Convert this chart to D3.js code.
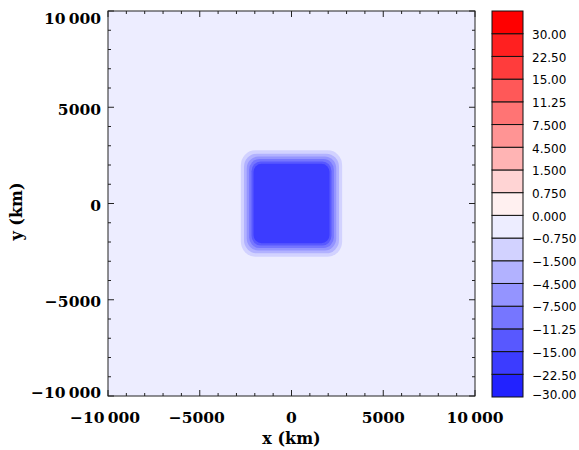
<!DOCTYPE html>
<html><head><meta charset="utf-8">
<script src="https://cdn.jsdelivr.net/npm/d3@7"></script>
<style>body{margin:0;background:#fff}svg{display:block}</style>
</head><body>
<svg id="chart" width="579" height="450"></svg>
<script>
// ---- data ----
const levels = [-30, -22.5, -15, -11.25, -7.5, -4.5, -1.5, -0.75, 0, 0.75, 1.5, 4.5, 7.5, 11.25, 15, 22.5, 30];
const levelLabels = ["\u221230.00","\u221222.50","\u221215.00","\u221211.25","\u22127.500","\u22124.500","\u22121.500","\u22120.750","0.000","0.750","1.500","4.500","7.500","11.25","15.00","22.50","30.00"];
const bandColors = ["#2222ff","#3c3cff","#5858ff","#7676ff","#9494ff","#b2b2ff","#d2d2ff","#ededff",
                    "#fff0f0","#ffd4d4","#ffb4b4","#ff9494","#ff7474","#ff5858","#ff3c3c","#ff2020","#ff0000"];
const backgroundValue = -0.3;
// closed contours of the field (nested rounded squares centred at 0,0)
const contourValues   = [-0.75, -1.5, -4.5, -7.5, -11.25, -15];
const contourHalfKm   = [2760, 2590, 2440, 2310, 2180, 2070];
const contourCornerKm = [780, 700, 630, 560, 500, 440];
const xMajor = [-10000, -5000, 0, 5000, 10000];
const yMajor = [-10000, -5000, 0, 5000, 10000];
const tickLabels = ["\u221210\u2009000", "\u22125000", "0", "5000", "10\u2009000"];

// ---- layout ----
const svg = d3.select("#chart");
const L = 108, R = 475, T = 11, B = 396;
const x = d3.scaleLinear().domain([-10000, 10000]).range([L, R]);
const y = d3.scaleLinear().domain([-10000, 10000]).range([B, T]);
const color = d3.scaleThreshold().domain(levels.slice(1)).range(bandColors);

// background field
svg.append("rect").attr("x", L).attr("y", T).attr("width", R - L).attr("height", B - T)
  .attr("fill", color(backgroundValue));

// contour fills (value just inside each contour)
const pxPerKm = (R - L) / 20000;
const g = svg.append("g");
contourValues.forEach((v, i) => {
  const h = contourHalfKm[i];
  g.append("rect")
    .attr("x", x(-h)).attr("y", y(h))
    .attr("width", x(h) - x(-h)).attr("height", y(-h) - y(h))
    .attr("rx", contourCornerKm[i] * pxPerKm).attr("ry", contourCornerKm[i] * (y(0) - y(1)))
    .attr("fill", color(v - 0.01));
});

// frame
svg.append("rect").attr("x", L).attr("y", T).attr("width", R - L).attr("height", B - T)
  .attr("fill", "none").attr("stroke", "#222").attr("stroke-width", 1);

// ticks (inward, all four sides)
const minor = d3.range(-10000, 10001, 1000);
const tk = svg.append("g").attr("stroke", "#222").attr("stroke-width", 1);
minor.forEach(v => {
  const len = (v % 5000 === 0) ? 6 : 3;
  tk.append("line").attr("x1", x(v)).attr("x2", x(v)).attr("y1", B).attr("y2", B - len);
  tk.append("line").attr("x1", x(v)).attr("x2", x(v)).attr("y1", T).attr("y2", T + len);
  tk.append("line").attr("y1", y(v)).attr("y2", y(v)).attr("x1", L).attr("x2", L + len);
  tk.append("line").attr("y1", y(v)).attr("y2", y(v)).attr("x1", R).attr("x2", R - len);
});

const tickFont = "'DejaVu Serif', serif";
xMajor.forEach((v, i) => {
  svg.append("text").attr("x", x(v) - (v < 0 ? 3 : 0)).attr("y", 423)
    .attr("text-anchor", "middle").attr("font-family", tickFont).attr("font-weight", "bold")
    .attr("font-size", 15.5).attr("fill", "#000").text(tickLabels[i]);
});
yMajor.forEach((v, i) => {
  const cy = Math.max(T + 7, Math.min(B - 4, y(v) + 2));
  svg.append("text").attr("x", 101).attr("y", cy).attr("dy", "0.36em")
    .attr("text-anchor", "end").attr("font-family", tickFont).attr("font-weight", "bold")
    .attr("font-size", 15.5).attr("fill", "#000").text(tickLabels[i]);
});

svg.append("text").attr("x", x(0)).attr("y", 444).attr("text-anchor", "middle")
  .attr("font-family", tickFont).attr("font-weight", "bold").attr("font-size", 16).text("x (km)");
svg.append("text").attr("transform", `translate(22,${y(0) + 8}) rotate(-90)`).attr("text-anchor", "middle")
  .attr("font-family", tickFont).attr("font-weight", "bold").attr("font-size", 16).text("y (km)");

// colorbar
const cbL = 492, cbR = 523;
const cb = d3.scaleLinear().domain([0, levels.length]).range([B + 1, T]);
const cbg = svg.append("g");
levels.forEach((lv, i) => {
  cbg.append("rect").attr("x", cbL).attr("y", cb(i + 1)).attr("width", cbR - cbL)
    .attr("height", cb(i) - cb(i + 1)).attr("fill", bandColors[i])
    .attr("stroke", "#111").attr("stroke-width", 1);
  cbg.append("text").attr("x", 532).attr("y", cb(i) + (i === 0 ? -2 : 1)).attr("dy", "0.36em")
    .attr("font-family", "'DejaVu Sans', sans-serif").attr("font-size", 12).attr("fill", "#000")
    .text(levelLabels[i]);
});
</script>
</body></html>
